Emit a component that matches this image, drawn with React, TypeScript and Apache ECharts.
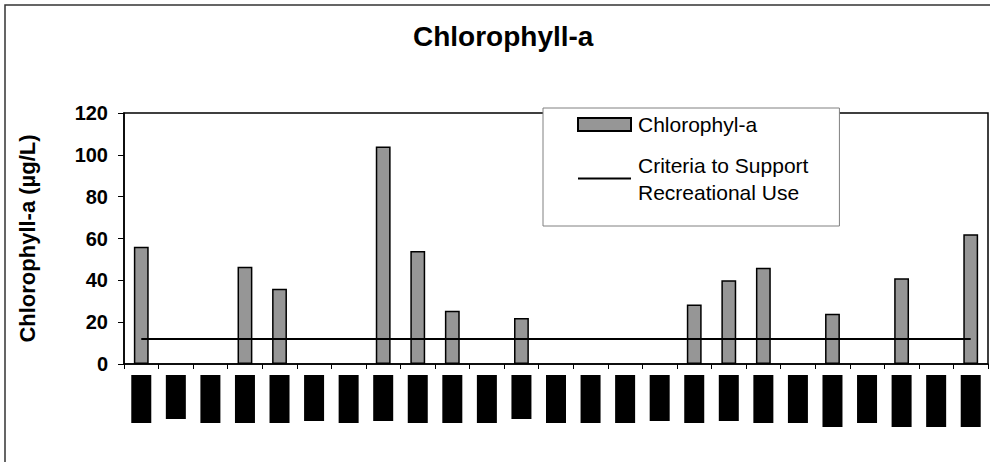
import React, { useEffect, useRef } from "react";
import * as echarts from "echarts";

// Category labels are redacted (black boxes) in the reference.
const categories = [
  "S1", "S2", "S3", "S4", "S5", "S6", "S7", "S8", "S9", "S10", "S11", "S12", "S13",
  "S14", "S15", "S16", "S17", "S18", "S19", "S20", "S21", "S22", "S23", "S24", "S25",
];
const chlorophyllValues = [
  56, null, null, 46.5, 36, null, null, 104, 54, 25.5, null, 22, null,
  null, null, null, 28.5, 40, 46, null, 24, null, 41, null, 62,
];
const criteriaValue = 12;
const criteriaValues = categories.map(() => criteriaValue);
const yTicks = { min: 0, max: 120, interval: 20 };
// height style of each redaction box
const redactionKinds = [
  "r48", "r44", "r48", "r48", "r48", "r46", "r48", "r46", "r48", "r48", "r48", "r44", "r48",
  "r48", "r48", "r46", "r48", "r46", "r48", "r48", "r52", "r48", "r52", "r52", "r52",
];

const FONT = "'Liberation Sans', Arial, sans-serif";

export default function App() {
  const ref = useRef<HTMLDivElement>(null);
  useEffect(() => {
    if (!ref.current) return;
    const chart = echarts.init(ref.current, undefined, { renderer: "svg" });
    const box = (h: number) => ({ width: 20, height: h, backgroundColor: "#000", color: "#000", fontSize: 1 });
    chart.setOption({
      animation: false,
      backgroundColor: "#fff",
      textStyle: { fontFamily: FONT },
      graphic: [
        {
          type: "rect",
          shape: { x: 5, y: 5, width: 1100, height: 600 },
          style: { fill: "none", stroke: "#333", lineWidth: 1.5 },
          silent: true,
        },
      ],
      title: {
        text: "Chlorophyll-a",
        left: 413,
        top: 22,
        padding: 0,
        textStyle: { fontFamily: FONT, fontSize: 28, fontWeight: "bold", color: "#000" },
      },
      legend: {
        orient: "vertical",
        left: 543,
        top: 108,
        itemGap: 0,
        itemWidth: 53,
        itemHeight: 13,
        padding: [3, 31, 7, 34],
        borderColor: "#808080",
        borderWidth: 1,
        backgroundColor: "#fff",
        textStyle: { fontFamily: FONT, fontSize: 21, color: "#000", lineHeight: 27, padding: [0, 0, 0, 2] },
        data: [
          { name: "Chlorophyl-a", icon: "rect" },
          {
            name: "Criteria to Support\nRecreational Use",
            icon: "path://M0,0 L110,0 L110,4 L0,4 Z",
            itemStyle: { color: "#000", borderWidth: 0 },
            textStyle: { padding: [27, 0, 0, 2] },
          },
        ],
      },
      grid: {
        left: 124,
        top: 113,
        right: 2,
        bottom: 98,
        show: true,
        borderColor: "#000",
        borderWidth: 1.5,
        backgroundColor: "transparent",
      },
      xAxis: {
        type: "category",
        data: categories,
        boundaryGap: true,
        axisLine: { lineStyle: { color: "#000", width: 1.5 } },
        axisTick: { show: true, length: 5, interval: 0, lineStyle: { color: "#000", width: 1 } },
        axisLabel: {
          interval: 0,
          margin: 11,
          formatter: (_v: string, i: number) => `{${redactionKinds[i]}| }`,
          rich: { r44: box(44), r46: box(46), r48: box(48), r52: box(52) },
        },
        splitLine: { show: false },
      },
      yAxis: {
        type: "value",
        min: yTicks.min,
        max: yTicks.max,
        interval: yTicks.interval,
        name: "Chlorophyll-a (µg/L)",
        nameLocation: "middle",
        nameGap: 86,
        nameTextStyle: { fontFamily: FONT, fontSize: 22, fontWeight: "bold", color: "#000" },
        axisLine: { show: true, lineStyle: { color: "#000", width: 1.5 } },
        axisTick: { show: true, length: 6, lineStyle: { color: "#000", width: 1 } },
        axisLabel: { fontFamily: FONT, fontSize: 20, fontWeight: "bold", color: "#000", margin: 16 },
        splitLine: { show: false },
      },
      series: [
        {
          name: "Chlorophyl-a",
          type: "bar",
          data: chlorophyllValues,
          barWidth: "43%",
          itemStyle: { color: "#969696", borderColor: "#000", borderWidth: 1.5 },
        },
        {
          name: "Criteria to Support\nRecreational Use",
          type: "line",
          data: criteriaValues,
          symbol: "none",
          lineStyle: { color: "#000", width: 2 },
          itemStyle: { color: "#000" },
        },
      ],
    });
    return () => chart.dispose();
  }, []);
  return (
    <div
      ref={ref}
      style={{ position: "fixed", left: 0, top: 0, width: 990, height: 462 }}
    />
  );
}
